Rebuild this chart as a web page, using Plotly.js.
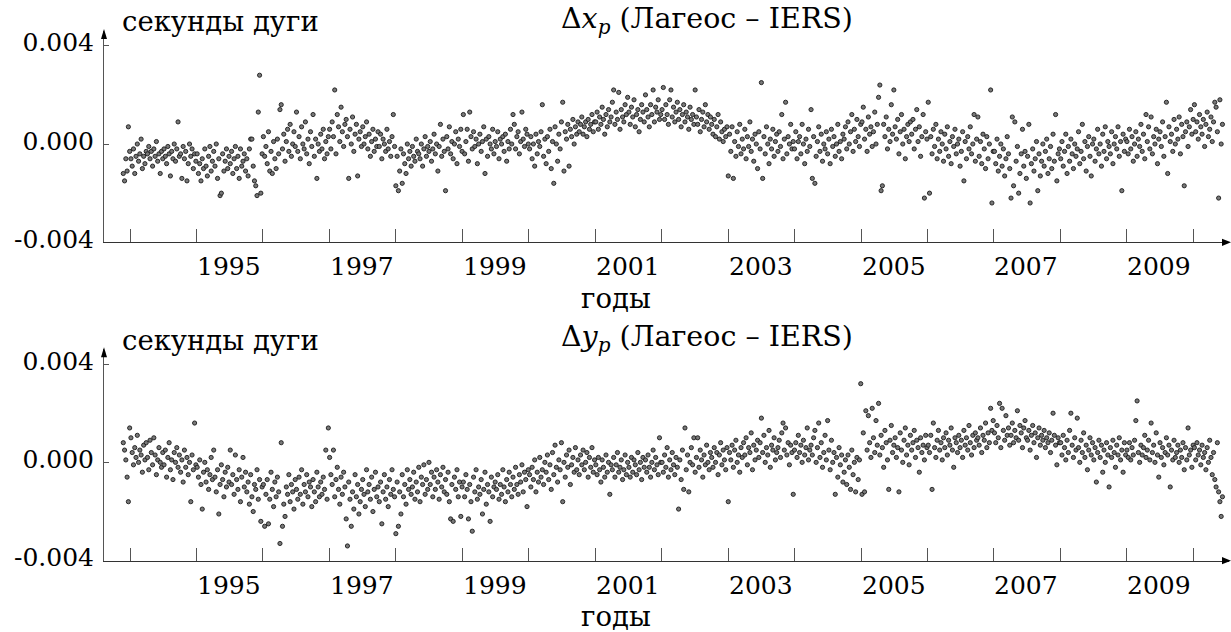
<!DOCTYPE html>
<html><head><meta charset="utf-8">
<script src="https://cdn.plot.ly/plotly-3.0.1.min.js"></script>
<style>html,body{margin:0;padding:0;background:#fff}#chart{width:1231px;height:632px}</style>
</head><body><div id="chart"></div>
<script>
// Epochs (MJD) of the weekly solutions
const epochs = [
49316,49323,49330,49337,49344,49351,
49358,49365,49372,49379,49386,49393,49400,49407,49414,49421,49428,49435,49442,49449,49456,49463,49470,49477,49484,49491,49498,49505,49512,49519,49526,49533,49540,49547,49554,49561,49568,49575,49582,49589,49596,49603,49610,49617,49624,49631,49638,49645,49652,49659,49666,49673,49680,49687,49694,49701,49708,49715,
49722,49729,49736,49743,49750,49757,49764,49771,49778,49785,49792,49799,49806,49813,49820,49827,49834,49841,49848,49855,49862,49869,49876,49883,49890,49897,49904,49911,49918,49925,49932,49939,49946,49953,49960,49967,49974,49981,49988,49995,50002,50009,50016,50023,50030,50037,50044,50051,50058,50065,50072,50079,
50086,50093,50100,50107,50114,50121,50128,50135,50142,50149,50156,50163,50170,50177,50184,50191,50198,50205,50212,50219,50226,50233,50240,50247,50254,50261,50268,50275,50282,50289,50296,50303,50310,50317,50324,50331,50338,50345,50352,50359,50366,50373,50380,50387,50394,50401,50408,50415,50422,50429,50436,50443,
50450,50457,50464,50471,50478,50485,50492,50499,50506,50513,50520,50527,50534,50541,50548,50555,50562,50569,50576,50583,50590,50597,50604,50611,50618,50625,50632,50639,50646,50653,50660,50667,50674,50681,50688,50695,50702,50709,50716,50723,50730,50737,50744,50751,50758,50765,50772,50779,50786,50793,50800,50807,
50814,50821,50828,50835,50842,50849,50856,50863,50870,50877,50884,50891,50898,50905,50912,50919,50926,50933,50940,50947,50954,50961,50968,50975,50982,50989,50996,51003,51010,51017,51024,51031,51038,51045,51052,51059,51066,51073,51080,51087,51094,51101,51108,51115,51122,51129,51136,51143,51150,51157,51164,51171,51178,
51185,51192,51199,51206,51213,51220,51227,51234,51241,51248,51255,51262,51269,51276,51283,51290,51297,51304,51311,51318,51325,51332,51339,51346,51353,51360,51367,51374,51381,51388,51395,51402,51409,51416,51423,51430,51437,51444,51451,51458,51465,51472,51479,51486,51493,51500,51507,51514,51521,51528,51535,51542,
51549,51556,51563,51570,51577,51584,51591,51598,51605,51612,51619,51626,51633,51640,51647,51654,51661,51668,51675,51682,51689,51696,51703,51710,51717,51724,51731,51738,51745,51752,51759,51766,51773,51780,51787,51794,51801,51808,51815,51822,51829,51836,51843,51850,51857,51864,51871,51878,51885,51892,51899,51906,
51913,51920,51927,51934,51941,51948,51955,51962,51969,51976,51983,51990,51997,52004,52011,52018,52025,52032,52039,52046,52053,52060,52067,52074,52081,52088,52095,52102,52109,52116,52123,52130,52137,52144,52151,52158,52165,52172,52179,52186,52193,52200,52207,52214,52221,52228,52235,52242,52249,52256,52263,52270,
52277,52284,52291,52298,52305,52312,52319,52326,52333,52340,52347,52354,52361,52368,52375,52382,52389,52396,52403,52410,52417,52424,52431,52438,52445,52452,52459,52466,52473,52480,52487,52494,52501,52508,52515,52522,52529,52536,52543,52550,52557,52564,52571,52578,52585,52592,52599,52606,52613,52620,52627,52634,
52641,52648,52655,52662,52669,52676,52683,52690,52697,52704,52711,52718,52725,52732,52739,52746,52753,52760,52767,52774,52781,52788,52795,52802,52809,52816,52823,52830,52837,52844,52851,52858,52865,52872,52879,52886,52893,52900,52907,52914,52921,52928,52935,52942,52949,52956,52963,52970,52977,52984,52991,52998,
53005,53012,53019,53026,53033,53040,53047,53054,53061,53068,53075,53082,53089,53096,53103,53110,53117,53124,53131,53138,53145,53152,53159,53166,53173,53180,53187,53194,53201,53208,53215,53222,53229,53236,53243,53250,53257,53264,53271,53278,53285,53292,53299,53306,53313,53320,53327,53334,53341,53348,53355,53362,53369,
53376,53383,53390,53397,53404,53411,53418,53425,53432,53439,53446,53453,53460,53467,53474,53481,53488,53495,53502,53509,53516,53523,53530,53537,53544,53551,53558,53565,53572,53579,53586,53593,53600,53607,53614,53621,53628,53635,53642,53649,53656,53663,53670,53677,53684,53691,53698,53705,53712,53719,53726,53733,
53740,53747,53754,53761,53768,53775,53782,53789,53796,53803,53810,53817,53824,53831,53838,53845,53852,53859,53866,53873,53880,53887,53894,53901,53908,53915,53922,53929,53936,53943,53950,53957,53964,53971,53978,53985,53992,53999,54006,54013,54020,54027,54034,54041,54048,54055,54062,54069,54076,54083,54090,54097,
54104,54111,54118,54125,54132,54139,54146,54153,54160,54167,54174,54181,54188,54195,54202,54209,54216,54223,54230,54237,54244,54251,54258,54265,54272,54279,54286,54293,54300,54307,54314,54321,54328,54335,54342,54349,54356,54363,54370,54377,54384,54391,54398,54405,54412,54419,54426,54433,54440,54447,54454,54461,
54468,54475,54482,54489,54496,54503,54510,54517,54524,54531,54538,54545,54552,54559,54566,54573,54580,54587,54594,54601,54608,54615,54622,54629,54636,54643,54650,54657,54664,54671,54678,54685,54692,54699,54706,54713,54720,54727,54734,54741,54748,54755,54762,54769,54776,54783,54790,54797,54804,54811,54818,54825,
54832,54839,54846,54853,54860,54867,54874,54881,54888,54895,54902,54909,54916,54923,54930,54937,54944,54951,54958,54965,54972,54979,54986,54993,55000,55007,55014,55021,55028,55035,55042,55049,55056,55063,55070,55077,55084,55091,55098,55105,55112,55119,55126,55133,55140,55147,55154,55161,55168,55175,55182,55189,55196,
55203,55210,55217,55224,55231,55238,55245,55252,55259,55266,55273,55280,55287,55294,55301,55308,55315,55322,55329,55336,55343,55350,55357
];

// Δx_p (Lageos – IERS), units of 0.0001 arcsec
const dxp = [
-12,-15,-6,-11,7,-3,
-6,-9,-2,-12,-5,0,-7,-4,2,-10,-5,-8,-3,-4,-1,-6,-3,-9,-2,-5,1,-7,-4,-12,-3,-6,-2,-5,-8,-1,-4,-13,-3,-6,0,-7,-2,9,-5,-4,-14,-1,-6,-3,-15,-8,0,-5,-2,-10,-4,-7,
-4,-12,-8,-15,-6,-10,-2,-9,-13,-5,-1,-11,-7,-3,-9,0,-14,-6,-21,-20,-4,-11,-7,-2,-10,-5,-8,-3,-12,-6,-1,-10,-5,-14,-2,-9,-7,-4,-11,-6,-13,-2,2,2,-9,-15,-17,-21,13,28,-20,-4,
3,-5,-1,-8,5,-11,-3,-12,1,-6,-10,2,-4,14,16,-2,4,-7,1,6,-3,8,-5,0,5,-1,13,-3,3,-6,7,0,-2,9,-4,2,-8,5,-1,12,-5,2,-14,0,-3,4,-2,6,-6,1,-4,3,
6,-2,9,3,22,-4,12,7,1,15,5,-1,8,10,3,-14,6,0,11,-3,4,8,-13,2,5,-1,7,0,3,9,-2,4,-5,1,6,-3,2,-1,5,-1,4,-6,2,0,-3,6,-2,1,-5,3,12,-1,
-17,-5,-19,-11,-2,-16,-4,-8,-12,0,-6,-3,-9,-1,-5,-7,2,-3,-4,-6,0,-9,-2,3,-5,-1,-3,1,-7,-2,4,-4,0,-11,-1,8,-5,2,-3,-19,3,-2,7,-4,1,-6,0,5,-8,2,-1,6,-3,
12,-4,1,6,-7,13,3,-2,5,-1,2,-8,0,4,-3,1,7,-12,2,-5,3,0,-2,6,-4,1,-1,5,-6,2,0,3,-3,4,-7,1,-2,6,0,12,8,-2,3,5,-4,1,13,2,-1,6,4,0,
-2,3,-6,0,-9,4,-4,1,-1,5,16,-5,2,-8,3,-3,6,-10,1,-16,7,0,-7,4,-2,9,17,-11,5,2,8,-9,6,3,10,0,7,4,9,5,8,11,4,7,9,3,10,6,8,12,5,9,
9,13,6,11,8,15,10,4,12,7,14,9,11,17,22,8,13,10,21,6,14,11,9,16,12,19,13,8,15,11,18,7,12,14,5,10,16,13,9,20,14,11,7,16,12,22,9,15,13,18,10,12,
14,23,10,16,12,8,18,22,11,15,9,13,17,10,14,7,12,16,9,13,11,6,15,10,12,8,22,11,8,14,5,10,13,7,16,9,12,6,11,8,4,10,3,7,12,2,9,5,1,6,3,7,
-13,4,-3,7,-14,1,-5,5,-1,8,-4,2,-2,6,-6,3,-1,9,-3,2,-7,4,0,-10,5,-2,25,-14,3,-4,7,0,-8,2,-2,6,-5,1,4,-3,5,-1,12,-6,2,17,-4,3,0,8,-2,1,
-2,5,-6,1,3,-4,8,0,-8,2,-3,6,-1,14,-14,3,-16,-5,1,7,-3,4,-7,0,-2,5,-4,2,-8,6,-1,3,-5,0,8,-3,1,-6,4,2,7,-2,9,0,5,12,-3,6,1,10,3,-1,8,
9,15,2,6,-3,11,4,7,-1,5,13,0,8,19,24,-19,-17,8,3,11,-2,6,1,16,4,22,7,2,10,-4,5,12,0,6,-6,3,8,1,9,4,10,-2,6,14,1,7,-5,3,12,-22,5,2,
17,-20,3,-4,6,-1,8,-6,2,-3,5,0,-7,4,-2,7,-5,1,-8,3,-1,6,-4,0,2,-9,-3,5,-15,1,-6,3,-2,7,-4,0,12,-7,2,11,-5,1,-8,4,-2,-10,3,-6,0,22,-24,-3,
-3,-8,2,-11,-5,0,-9,-2,-13,-6,3,-4,-10,-22,11,-17,9,-7,-1,-20,-12,-4,6,-9,-3,-14,-5,8,-24,-8,-2,-11,-6,1,-19,-4,-13,-7,0,-9,-3,2,-12,-6,-1,-10,4,-7,12,-15,-4,-2,
-6,1,-9,-3,4,-12,-1,-7,2,-4,-10,0,-5,-2,5,-8,-3,8,-6,1,-11,-1,3,-5,-13,0,2,-7,-2,6,-4,0,-9,4,-3,7,-6,1,-1,-4,5,-8,0,3,-2,7,-5,1,-19,4,-3,2,
1,-4,6,-2,3,-7,0,5,-5,2,-1,8,-3,4,-6,12,1,7,-2,11,-4,3,0,6,-8,2,5,-1,9,-5,3,17,-12,7,1,4,-3,10,0,6,2,11,-4,8,3,-17,5,9,-1,7,14,4,10,
16,5,9,2,12,7,4,10,-1,8,13,3,6,11,1,9,17,15,5,-22,18,0,8
];

// Δy_p (Lageos – IERS), units of 0.0001 arcsec
const dyp = [
8,5,1,-6,-16,14,
10,4,-1,6,2,11,0,5,3,-4,7,1,8,2,-3,9,4,-1,10,3,-5,1,6,0,-2,4,-1,5,-6,2,8,-3,1,-7,4,0,6,-2,3,-4,1,-8,5,-2,2,-5,0,-16,3,-3,16,-1,
-2,-6,1,-9,-19,-4,0,-8,-3,-11,-5,2,-7,5,-6,-12,-3,-21,-9,-1,-7,-14,-4,-10,-2,-8,5,-9,-5,-13,3,-7,-11,-3,-16,-6,2,-10,-4,-12,-8,-17,-5,-14,-20,-9,-11,-3,-15,-7,-24,-10,
-9,-26,-13,-7,-25,-15,-4,-11,-18,-8,-14,-6,-12,-33,8,-26,-17,-22,-10,-13,-5,-16,-9,-12,-19,-7,-11,-15,-6,-13,-3,-17,-9,-12,-5,-14,-8,-10,-18,-7,-12,-16,-4,-10,-14,-8,-13,-6,-11,5,-15,14,
2,-5,-9,5,-14,-7,-2,-11,-17,-6,-13,-4,-10,-23,-34,-8,-15,-26,-12,-19,-5,-14,-9,-21,-16,-11,-7,-13,-18,-3,-12,-9,-15,-6,-20,-11,-4,-14,-10,-16,-8,-25,-12,-5,-15,-10,-18,-7,-13,-3,-11,-14,
-29,-8,-26,-12,-21,-5,-14,-9,-17,-3,-11,-7,-13,-10,-4,-15,-8,-12,-2,-16,-6,-9,-1,-13,-7,-11,0,-9,-4,-14,-6,-11,-3,-8,-15,-5,-10,-2,-12,-7,-13,-4,-16,-23,-9,-24,-6,-11,-3,-14,-8,-22,-10,
-8,-14,-5,-11,-23,-9,-16,-28,-6,-12,-3,-15,-10,-13,-7,-21,-11,-4,-17,-9,-12,-24,-6,-14,-10,-8,-11,-5,-15,-9,-13,-3,-10,-16,-7,-12,-4,-9,-14,-6,-11,-2,-9,-13,-5,-8,-1,-12,-4,-7,-18,-3,
-5,-10,-2,-7,1,-12,-4,-8,2,-6,-3,-9,0,-4,3,-7,-1,-11,4,-5,7,-2,-8,1,-3,8,-16,0,-6,3,-2,5,-9,-1,2,-4,6,-3,1,-5,3,-1,5,-3,0,4,-6,2,-2,6,-4,1,
-1,-5,2,-3,-8,1,-2,-6,3,-4,0,-13,-1,-3,2,-6,-1,4,-4,-2,1,-7,-3,3,-5,0,-2,-6,2,-4,1,-1,-5,4,-3,0,-7,2,-2,1,-4,3,-2,-6,0,5,-3,2,-1,-5,10,0,
0,-4,3,-2,6,-6,1,-3,4,-1,-5,2,-2,-19,1,-7,5,-11,14,-3,3,-12,0,6,-1,10,-4,2,10,-2,5,1,-6,3,-1,7,0,-3,4,2,-2,6,0,4,-5,3,8,-1,5,1,-3,6,
-16,4,1,7,-2,5,9,0,3,-4,6,2,8,3,10,-1,6,4,12,-3,7,1,5,9,2,8,18,4,11,0,6,3,13,-2,7,5,10,1,4,6,9,2,12,16,5,14,3,8,-1,7,4,-13,
5,8,2,11,4,7,0,9,3,6,14,1,5,7,3,10,13,0,6,16,2,8,-2,4,11,1,17,5,-3,9,0,4,-13,2,-6,6,-1,3,-8,-4,1,-9,3,-2,-11,5,-5,0,-12,2,-7,1,32,
-13,12,-12,21,5,19,8,2,22,10,4,17,7,24,3,11,6,-2,13,8,1,-11,9,15,4,7,10,2,6,-12,12,5,0,9,14,3,7,-1,11,5,8,13,2,9,6,-4,10,4,7,1,11,6,
7,4,11,-11,16,6,2,9,13,5,8,1,10,6,12,3,9,7,14,5,-2,10,8,4,11,6,9,2,13,7,10,5,15,8,3,11,6,12,9,10,7,14,4,11,9,16,6,12,8,22,13,17,
12,8,15,10,24,6,22,13,9,19,11,14,7,11,16,8,13,10,21,9,15,12,6,14,17,10,9,13,5,11,15,8,12,2,10,14,7,11,9,13,6,10,8,12,4,9,20,11,7,-1,10,8,
8,3,11,6,1,9,4,13,20,7,2,10,5,18,6,0,9,4,12,2,7,-3,5,10,3,8,1,6,-8,4,9,2,7,-4,5,0,8,3,-10,6,2,9,4,-2,7,3,10,1,5,-4,8,3,
5,2,8,1,6,3,9,17,25,4,0,7,3,6,11,2,5,9,1,16,4,7,0,12,3,-6,8,2,6,-1,4,10,3,7,-10,5,1,9,2,4,7,0,5,2,8,-3,6,1,14,3,5,-2,7,
6,1,8,3,5,-1,7,2,4,-3,6,0,9,2,-5,4,-7,-10,8,-12,-16,-22,-14
];

// Axis ticks: start of each year (MJD) and the year labels
const yearStarts = [49353,49718,50083,50449,50814,51179,51544,51910,52275,52640,53005,53371,53736,54101,54466,54832,55197];
const tickYears  = [1994,1995,1996,1997,1998,1999,2000,2001,2002,2003,2004,2005,2006,2007,2008,2009,2010];
const labelYears = [1995,1997,1999,2001,2003,2005,2007,2009];
const yTickVals  = [-40, 0, 40];
const yTickText  = ['-0.004', '0.000', '0.004'];
const titles     = ['Δ<i>x</i><sub><i>p</i></sub> (Лагеос – IERS)', 'Δ<i>y</i><sub><i>p</i></sub> (Лагеос – IERS)'];
const yUnit      = 'секунды дуги';
const xUnit      = 'годы';

const n = Math.min(epochs.length, dxp.length, dyp.length);
const FONT = '"DejaVu Serif", serif';
const TICK = 25, TXT = 27.5;
const marker = {size: 4.2, color: '#787878', line: {width: 0.9, color: '#1a1a1a'}};

const traces = [
  {type: 'scatter', mode: 'markers', x: epochs.slice(0, n), y: dxp.slice(0, n), xaxis: 'x', yaxis: 'y', marker: marker, hoverinfo: 'skip'},
  {type: 'scatter', mode: 'markers', x: epochs.slice(0, n), y: dyp.slice(0, n), xaxis: 'x2', yaxis: 'y2', marker: marker, hoverinfo: 'skip'}
];

const H = 632;
const panels = [
  {dom: [1 - 242.3 / H, 1 - 31 / H], off: 0},
  {dom: [1 - 560.7 / H, 1 - 349.3 / H], off: 318.4}
];

function axX(anchor) {
  return {domain: [0, 1], anchor: anchor, range: [49210, 55393], showline: true, linecolor: '#333', linewidth: 1,
    ticks: 'inside', ticklen: 13, tickwidth: 1, tickcolor: '#555', tickvals: yearStarts, showticklabels: false,
    showgrid: false, zeroline: false, fixedrange: true};
}
function axY(dom, anchor) {
  return {domain: dom, anchor: anchor, range: [-40, 46], showline: true, linecolor: '#555', linewidth: 1,
    ticks: 'inside', ticklen: 5, tickwidth: 1, tickcolor: '#555', tickvals: yTickVals, ticktext: yTickText,
    tickfont: {size: TICK, family: FONT, color: '#000'}, ticklabelstandoff: 4, ticklabelshift: -3,
    showgrid: false, zeroline: false, fixedrange: true};
}

const annotations = [];
const shapes = [];
panels.forEach((p, k) => {
  const xa = k === 0 ? 'x' : 'x2';
  labelYears.forEach(yr => {
    const nextStart = yearStarts[tickYears.indexOf(yr + 1)];
    annotations.push({xref: xa, yref: 'paper', x: nextStart, y: 1 - (266.7 + p.off) / H, xanchor: 'right', yanchor: 'middle',
      text: String(yr), showarrow: false, font: {size: TICK, family: FONT, color: '#000'}});
  });
  annotations.push({xref: 'paper', yref: 'paper', x: (707 - 104) / 1125, y: 1 - (20.5 + p.off) / H, xanchor: 'center', yanchor: 'middle',
    text: titles[k], showarrow: false, font: {size: 28.5, family: FONT, color: '#000'}});
  annotations.push({xref: 'paper', yref: 'paper', x: (120 - 104) / 1125, y: 1 - (21.5 + p.off) / H, xanchor: 'left', yanchor: 'middle',
    text: yUnit, showarrow: false, font: {size: TXT, family: FONT, color: '#000'}});
  annotations.push({xref: 'paper', yref: 'paper', x: (616 - 104) / 1125, y: 1 - (297.5 + p.off) / H, xanchor: 'center', yanchor: 'middle',
    text: xUnit, showarrow: false, font: {size: TXT, family: FONT, color: '#000'}});
  // arrow heads
  shapes.push({type: 'path', xref: 'paper', yref: 'paper', xsizemode: 'pixel', ysizemode: 'pixel', xanchor: 1, yanchor: p.dom[0],
    path: 'M2,0 L-7,3.6 L-7,-3.6 Z', fillcolor: '#000', line: {width: 0}});
  shapes.push({type: 'path', xref: 'paper', yref: 'paper', xsizemode: 'pixel', ysizemode: 'pixel', xanchor: 0, yanchor: p.dom[1],
    path: 'M0,2 L-3,-8 L3,-8 Z', fillcolor: '#000', line: {width: 0}});
});

const layout = {
  width: 1231, height: 632, margin: {l: 104, r: 2, t: 0, b: 0},
  paper_bgcolor: '#fff', plot_bgcolor: '#fff', showlegend: false,
  font: {family: FONT, color: '#000'},
  xaxis: axX('y'), yaxis: axY(panels[0].dom, 'x'),
  xaxis2: axX('y2'), yaxis2: axY(panels[1].dom, 'x2'),
  annotations: annotations, shapes: shapes
};

Plotly.newPlot('chart', traces, layout, {staticPlot: true, displayModeBar: false});
</script>
</body></html>
